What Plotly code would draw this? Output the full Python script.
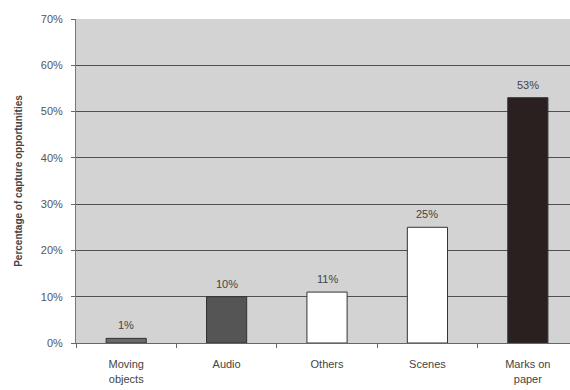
import plotly.graph_objects as go

categories = ["Moving<br>objects", "Audio", "Others", "Scenes", "Marks on<br>paper"]
values = [0.01, 0.10, 0.11, 0.25, 0.53]
bar_colors = ["#6a6a6a", "#555555", "#ffffff", "#ffffff", "#2a2020"]
y_ticks = [0, 0.1, 0.2, 0.3, 0.4, 0.5, 0.6, 0.7]

fig = go.Figure()
fig.add_trace(go.Bar(
    x=categories, y=values,
    marker=dict(color=bar_colors, line=dict(color="#333333", width=1)),
    cliponaxis=False,
))
for c, v in zip(categories, values):
    fig.add_annotation(
        x=c, y=v, text=f"{v:.0%}", showarrow=False, yanchor="bottom", yshift=5,
        font=dict(family="Liberation Sans, Arial, sans-serif", size=11, color="#444444"),
    )

fig.update_layout(
    width=570, height=390,
    margin=dict(l=76, r=0, t=19, b=47),
    paper_bgcolor="white", plot_bgcolor="#d3d3d3",
    bargap=0.6, showlegend=False,
    font=dict(family="Liberation Sans, Arial, sans-serif", size=11, color="#444444"),
    xaxis=dict(
        range=[-0.5, 4.42], ticks="outside", tickson="boundaries", ticklen=4,
        tickcolor="#666666", showgrid=False, showline=True, linecolor="#666666",
        tickfont=dict(size=11, color="#444444"), ticklabelstandoff=11,
    ),
    yaxis=dict(
        range=[0, 0.7], tickvals=y_ticks, tickformat=".0%",
        showgrid=True, gridcolor="#505050", gridwidth=1,
        showline=True, linecolor="#777777", ticks="outside", ticklen=4,
        tickcolor="#666666", zeroline=False, ticklabelstandoff=6,
        tickfont=dict(size=11, color="#555555"),
        title=dict(text="<b>Percentage of capture opportunities</b>",
                   font=dict(size=10, color="#444444"), standoff=16),
    ),
)

fig.write_html("out.html")
